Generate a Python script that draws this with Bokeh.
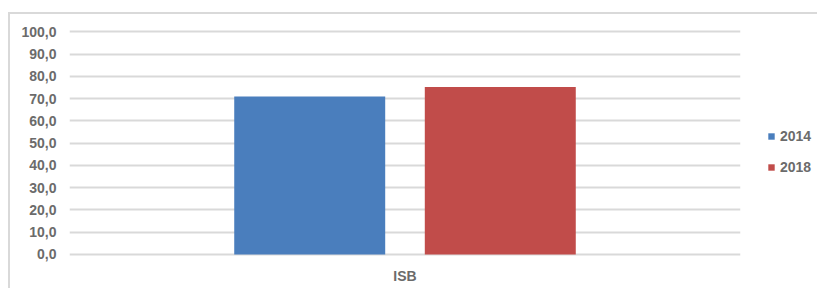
from bokeh.plotting import figure
from bokeh.models import FactorRange, Range1d, ColumnDataSource, Legend, LegendItem, Label
from bokeh.transform import dodge
from bokeh.embed import file_html
from bokeh.resources import INLINE

categories = ["ISB"]
series_names = ["2014", "2018"]
values_2014 = [71.0]
values_2018 = [75.3]
y_ticks = [0, 10, 20, 30, 40, 50, 60, 70, 80, 90, 100]
title_text = "ÍNDICE DE SATISFAÇÃO BRASIL (ISB) 2014 X 2018"

FONT = "Liberation Sans"
GRAY = "#6b6b6b"
BLUE = "#4A7EBD"
RED = "#C14C4A"
BORDER = "#d9d9d9"

src = ColumnDataSource(dict(cat=categories, v2014=values_2014, v2018=values_2018))

p = figure(frame_width=671, frame_height=235, x_range=FactorRange(*categories),
           y_range=Range1d(-2.7, 102.9), output_backend="svg", toolbar_location=None,
           min_border_left=69, min_border_right=77, min_border_top=25, min_border_bottom=28)
p.outline_line_color = None
p.border_fill_color = None
p.background_fill_color = None
# chart-area border (light grey frame starting at the top-left, cut off on the right/bottom)
p.styles = {
    "background-color": "white",
    "background-image": f"linear-gradient({BORDER},{BORDER}), linear-gradient({BORDER},{BORDER})",
    "background-position": "8px 12px, 8px 12px",
    "background-size": "2px 400px, 1200px 2px",
    "background-repeat": "no-repeat",
}

r1 = p.vbar(x=dodge("cat", -0.142, range=p.x_range), top="v2014", width=0.225,
            source=src, color=BLUE, line_color=None)
r2 = p.vbar(x=dodge("cat", 0.142, range=p.x_range), top="v2018", width=0.225,
            source=src, color=RED, line_color=None)

p.xgrid.grid_line_color = None
p.ygrid.grid_line_color = BORDER
p.ygrid.grid_line_width = 2
p.ygrid.ticker = y_ticks
p.yaxis.ticker = y_ticks
p.yaxis.major_label_overrides = {t: f"{t:.1f}".replace(".", ",") for t in y_ticks}

for ax in (p.xaxis[0], p.yaxis[0]):
    ax.axis_line_color = None
    ax.major_tick_line_color = None
    ax.minor_tick_line_color = None
    ax.major_tick_out = 0
    ax.major_tick_in = 0
    ax.minor_tick_out = 0
    ax.major_label_text_font = FONT
    ax.major_label_text_font_style = "bold"
    ax.major_label_text_color = GRAY
    ax.major_label_text_font_size = "14px"
p.yaxis.major_label_standoff = 13
p.xaxis.major_label_standoff = 7

legend = Legend(items=[LegendItem(label=series_names[0], renderers=[r1]),
                       LegendItem(label=series_names[1], renderers=[r2])],
                location=(27, 85), orientation="vertical", padding=0, margin=0,
                spacing=15, glyph_width=8, glyph_height=8, label_height=15,
                label_width=37, label_standoff=5, border_line_color=None,
                background_fill_alpha=0,
                label_text_font=FONT, label_text_font_style="bold",
                label_text_color=GRAY, label_text_font_size="14px")
p.add_layout(legend, "right")

title = Label(x=0.5, y=111.9, text=title_text, x_offset=18, text_align="center",
              text_baseline="alphabetic", text_font_size="20px", text_font_style="bold",
              text_font=FONT, text_color="#262626")
if "clip" in title.properties():
    title.clip = False
p.add_layout(title)

open("out.html", "w").write(file_html(p, INLINE))
